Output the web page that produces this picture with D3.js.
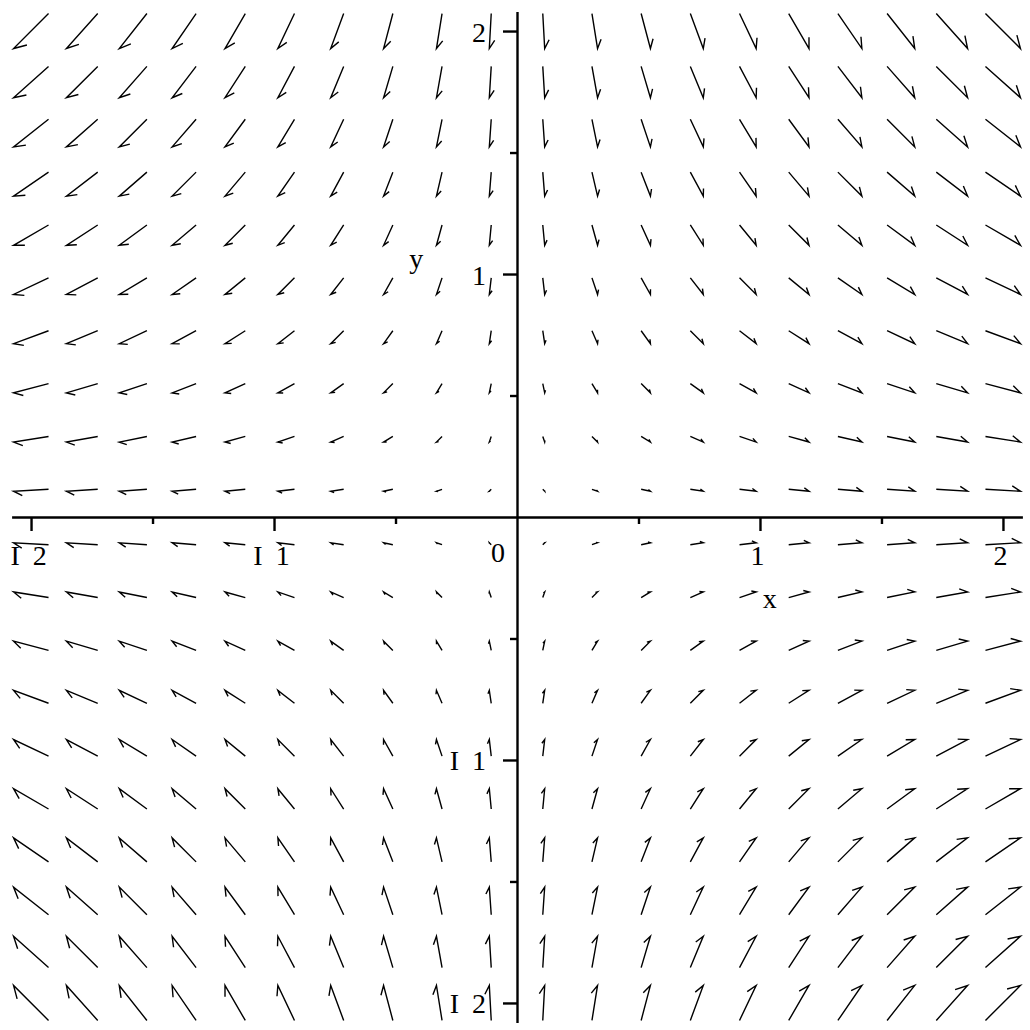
<!DOCTYPE html>
<html>
<head>
<meta charset="utf-8">
<script src="https://cdn.jsdelivr.net/npm/d3@7"></script>
<style>
  body { margin: 0; background: #fff; }
  svg { display: block; }
</style>
</head>
<body>
<div id="chart"></div>
<script>
// grid of sample points (20 x 20) and the field components
var gridX = [-2.00, -1.79, -1.58, -1.37, -1.16, -0.95, -0.74, -0.53, -0.32, -0.11,
              0.11,  0.32,  0.53,  0.74,  0.95,  1.16,  1.37,  1.58,  1.79,  2.00];
var gridY = [-2.00, -1.79, -1.58, -1.37, -1.16, -0.95, -0.74, -0.53, -0.32, -0.11,
              0.11,  0.32,  0.53,  0.74,  0.95,  1.16,  1.37,  1.58,  1.79,  2.00];
// x component depends on column only, y component on row only
var uByColumn = [-2.00, -1.79, -1.58, -1.37, -1.16, -0.95, -0.74, -0.53, -0.32, -0.11,
                  0.11,  0.32,  0.53,  0.74,  0.95,  1.16,  1.37,  1.58,  1.79,  2.00];
var vByRow = [2.00, 1.79, 1.58, 1.37, 1.16, 0.95, 0.74, 0.53, 0.32, 0.11,
             -0.11, -0.32, -0.53, -0.74, -0.95, -1.16, -1.37, -1.58, -1.79, -2.00];

var xMajor = [-2, -1, 1, 2],
    xMinor = [-1.5, -0.5, 0.5, 1.5],
    xLabels = ["I 2", "I 1", "1", "2"];
var yMajor = [-2, -1, 1, 2],
    yMinor = [-1.5, -0.5, 0.5, 1.5],
    yLabels = ["I 2", "I 1", "1", "2"];

var W = 1030, H = 1030;
var FONT = '"Liberation Serif", "Times New Roman", serif';
var svg = d3.select('#chart').append('svg')
    .attr('width', W)
    .attr('height', H);

var x = d3.scaleLinear().domain([-2.08, 2.08]).range([11.6, 1022.4]);
var y = d3.scaleLinear().domain([-2.08, 2.08]).range([1022.4, 11.6]);

// arrows
var spacing = gridX[1] - gridX[0];
var maxMag = d3.max(uByColumn, u => d3.max(vByRow, v => Math.hypot(u, v)));
var k = 0.97 * spacing / maxMag;

var arrows = [];
gridX.forEach((gx, i) => {
    gridY.forEach((gy, j) => {
        arrows.push({ gx: gx, gy: gy, u: uByColumn[i], v: vByRow[j] });
    });
});

function arrowPath(d) {
    var cx = x(d.gx), cy = y(d.gy);
    var dx = x(d.u * k) - x(0),
        dy = y(d.v * k) - y(0);
    var x0 = cx - dx / 2, y0 = cy - dy / 2,
        x1 = cx + dx / 2, y1 = cy + dy / 2;
    var len = Math.hypot(dx, dy);
    var back = Math.atan2(-dy, -dx) + Math.PI / 6;
    var bl = 0.28 * len;
    var bx = x1 + bl * Math.cos(back), by = y1 + bl * Math.sin(back);
    return 'M' + x0 + ',' + y0 + 'L' + x1 + ',' + y1 + 'L' + bx + ',' + by;
}

svg.append('g')
    .selectAll('path')
    .data(arrows)
    .join('path')
    .attr('d', arrowPath)
    .attr('fill', 'none')
    .attr('stroke', '#000')
    .attr('stroke-width', 1.4)
    .attr('stroke-linejoin', 'miter');

// axes
var xAxisMajor = d3.axisBottom(x)
    .tickValues(xMajor)
    .tickSize(14)
    .tickSizeOuter(0)
    .tickFormat((d, i) => xLabels[i]);
var xAxisMinor = d3.axisBottom(x).tickValues(xMinor).tickSize(7).tickSizeOuter(0).tickFormat('');

var gx = svg.append('g').attr('transform', 'translate(0,' + y(0) + ')');
gx.call(xAxisMajor);
gx.append('g').call(xAxisMinor).select('.domain').remove();

var yAxisMajor = d3.axisLeft(y)
    .tickValues(yMajor)
    .tickSize(14)
    .tickSizeOuter(0)
    .tickFormat((d, i) => yLabels[i]);
var yAxisMinor = d3.axisLeft(y).tickValues(yMinor).tickSize(7).tickSizeOuter(0).tickFormat('');

var gy = svg.append('g').attr('transform', 'translate(' + x(0) + ',0)');
gy.call(yAxisMajor);
gy.append('g').call(yAxisMinor).select('.domain').remove();

svg.selectAll('.domain, .tick line')
    .attr('stroke', '#000')
    .attr('stroke-width', 2.4);

gx.selectAll('.tick text')
    .attr('x', -3)
    .attr('y', 48)
    .attr('dy', 0);

gy.selectAll('.tick text')
    .attr('x', -31)
    .attr('y', 10)
    .attr('dy', 0);

// origin label and axis titles
svg.append('text')
    .attr('x', x(0) - 19)
    .attr('y', y(0) + 45)
    .attr('text-anchor', 'middle')
    .text('0');

svg.append('text')
    .attr('x', x(1.04))
    .attr('y', y(-0.374))
    .attr('text-anchor', 'middle')
    .text('x');

svg.append('text')
    .attr('x', x(-0.415))
    .attr('y', y(1.025))
    .attr('text-anchor', 'middle')
    .text('y');

svg.selectAll('text')
    .attr('fill', '#000')
    .style('font-family', FONT)
    .style('font-size', '28px')
    .style('word-spacing', '6px');
</script>
</body>
</html>
